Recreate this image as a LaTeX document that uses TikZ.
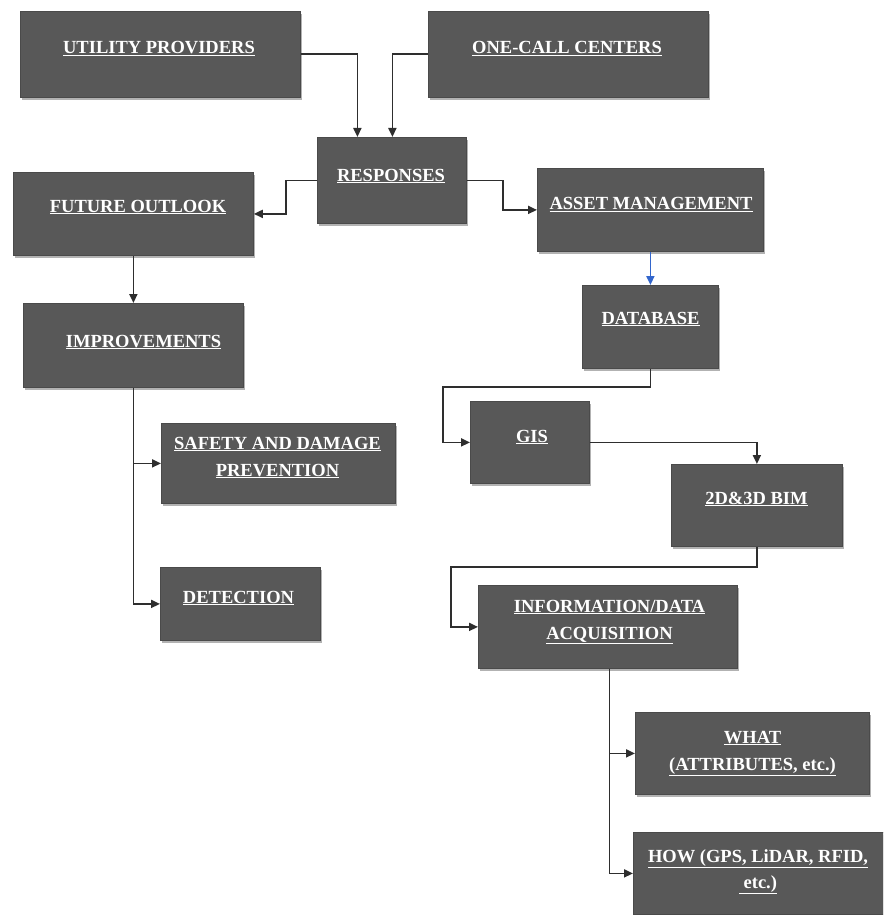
\documentclass[tikz,border=0pt]{standalone}
\usepackage{fontspec}
\setmainfont{Liberation Serif}
\usetikzlibrary{arrows.meta,shadows}
\definecolor{boxgray}{HTML}{585858}
\definecolor{boxedge}{HTML}{4A4A4A}
\definecolor{linegray}{HTML}{2E2E2E}
\definecolor{arrowblue}{HTML}{3366CC}
\tikzset{
  box/.style={draw=boxedge, line width=0.8pt, fill=boxgray, inner sep=0pt, anchor=north west,
    drop shadow={shadow xshift=1.5pt, shadow yshift=-2.5pt, fill=black, opacity=0.3}},
  lbl/.style={text=white, font=\fontsize{18.5}{26}\selectfont\bfseries, anchor=base, inner sep=0pt},
  conn/.style={draw=linegray, line width=1.8pt, -{Triangle[length=9pt,width=8pt]}},
  blueconn/.style={draw=arrowblue, line width=1.8pt, -{Triangle[length=9pt,width=8pt]}}
}
\newcommand{\mkbox}[5]{\node[box, minimum width={#4-#2}, minimum height={#5-#3}] (#1) at (#2,#3) {};}
\begin{document}
\begin{tikzpicture}[x=1pt,y=-1pt]
\useasboundingbox (0,0) rectangle (883,915);
\clip (0,0) rectangle (883,915);
% boxes
\mkbox{up}{20}{11}{300}{97}
\mkbox{occ}{428}{11}{708}{97}
\mkbox{resp}{317}{137}{466}{223}
\mkbox{fo}{13}{172}{253}{255}
\mkbox{am}{537}{168}{763}{251}
\mkbox{db}{582}{285}{718}{368}
\mkbox{imp}{23}{303}{243}{387}
\mkbox{saf}{161}{423}{395}{503}
\mkbox{det}{160}{567}{320}{640}
\mkbox{gis}{470}{401}{589}{483}
\mkbox{bim}{671}{464}{842}{546}
\mkbox{info}{478}{585}{737}{668}
\mkbox{what}{635}{712}{869}{794}
\mkbox{how}{633}{832}{900}{914}
% labels
\node[lbl] (up-t) at (159,54) {\underline{UTILITY PROVIDERS}};
\node[lbl] (occ-t) at (567,54) {\underline{ONE-CALL CENTERS}};
\node[lbl] (resp-t) at (391,181) {\underline{RESPONSES}};
\node[lbl] (fo-t) at (138,212) {\underline{FUTURE OUTLOOK}};
\node[lbl] (am-t) at (651,209.5) {\underline{ASSET MANAGEMENT}};
\node[lbl] (db-t) at (650.5,324) {\underline{DATABASE}};
\node[lbl] (imp-t) at (143.5,347) {\underline{IMPROVEMENTS}};
\node[lbl] (saf-t1) at (277.5,449) {\underline{SAFETY AND DAMAGE}};
\node[lbl] (saf-t2) at (277.5,476) {\underline{PREVENTION}};
\node[lbl] (det-t) at (238.5,603) {\underline{DETECTION}};
\node[lbl] (gis-t) at (532,442) {\underline{GIS}};
\node[lbl] (bim-t) at (756.5,504) {\underline{2D\&3D BIM}};
\node[lbl] (info-t1) at (609.5,612) {\underline{INFORMATION/DATA}};
\node[lbl] (info-t2) at (609.5,639) {\underline{ACQUISITION}};
\node[lbl] (what-t1) at (752.5,743) {\underline{WHAT}};
\node[lbl] (what-t2) at (752.5,770) {\underline{(ATTRIBUTES, etc.)}};
\node[lbl] (how-t1) at (758,862) {\underline{HOW (GPS, LiDAR, RFID,}};
\node[lbl] (how-t2) at (758,888) {\underline{\ etc.)}};
% connectors
\draw[conn] (up.east) -| ([xshift=-34.5pt]resp.north);
\draw[conn] (occ.west) -| ([xshift=0.5pt]resp.north);
\draw[conn] (resp.west) -- ++(-31,0) |- (fo.east);
\draw[conn] (resp.east) -- ++(36,0) |- (am.west);
\draw[blueconn] (am.south) -- (db.north);
\draw[conn] (fo.south) -- (imp.north);
\draw[conn] (imp.south) |- (saf.west);
\draw[conn] (imp.south) |- (det.west);
\draw[conn] (db.south) -- ++(0,18) -| ([xshift=-27pt]gis.west) -- (gis.west);
\draw[conn] (gis.east) -| (bim.north);
\draw[conn] (bim.south) -- ++(0,20) -| ([xshift=-27pt]info.west) -- (info.west);
\draw[conn] ([xshift=1.5pt]info.south) |- (what.west);
\draw[conn] ([xshift=1.5pt]info.south) |- (how.west);
\end{tikzpicture}
\end{document}
